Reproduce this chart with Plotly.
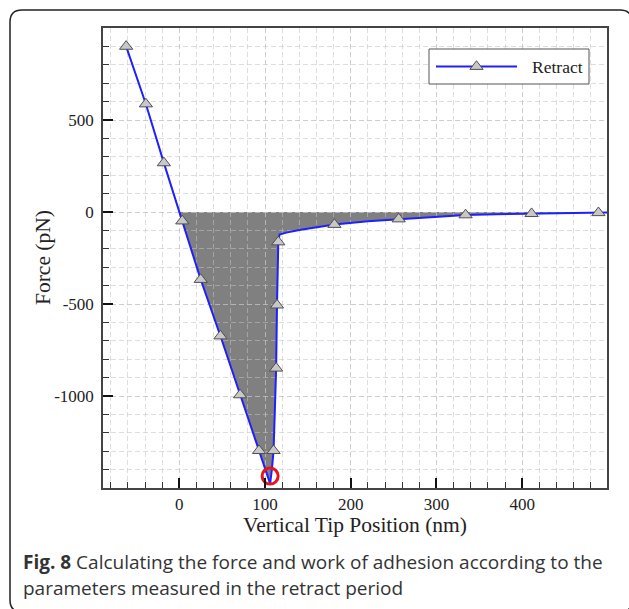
import plotly.graph_objects as go

# ---------------- data ----------------
line_x = [-62, -39, -18, 3.5, 25, 48, 71, 93, 100, 106, 108, 110, 112, 113, 114, 115.5,
          117, 125, 140, 160, 181, 220, 256, 300, 334, 370, 411, 450, 489, 499]
line_y = [900, 587, 267, -49, -367, -674, -994, -1297, -1395, -1476, -1400, -1297, -1000, -849, -506, -163,
          -122, -112, -98, -82, -68, -50, -38, -25, -16, -12, -9, -6, -4, -3]
marker_x = [-62, -39, -18, 3.5, 25, 48, 71, 93, 110, 113, 114, 115.5, 181, 256, 334, 411, 489]
marker_y = [900, 587, 267, -49, -367, -674, -994, -1297, -1297, -849, -506, -163, -68, -38, -16, -9, -4]
peak_x = [106]
peak_y = [-1435]

x_tickvals = [0, 100, 200, 300, 400]
x_ticktext = ["0", "100", "200", "300", "400"]
y_tickvals = [-1000, -500, 0, 500]
y_ticktext = ["-1000", "-500", "0", "500"]

series_name = "Retract"
x_title = "Vertical Tip Position (nm)"
y_title = "Force (pN)"
caption_1 = "<b>Fig. 8</b> Calculating the force and work of adhesion according to the"
caption_2 = "parameters measured in the retract period"

# ---------------- layout geometry ----------------
W, H = 629, 609
L, R, T, B = 103, 607, 28, 488


def px(xp):
    return (xp - L) / (R - L)


def py(yp):
    return (B - yp) / (B - T)


GRID = "rgba(193,193,193,0.55)"
SERIF = "Liberation Serif"
BLUE = "#1f1fff"

fig = go.Figure()

fig.add_trace(go.Scatter(x=line_x, y=line_y, mode="lines",
                         line=dict(color=BLUE, width=2), showlegend=False, hoverinfo="skip"))
fig.add_trace(go.Scatter(x=marker_x, y=marker_y, mode="markers", name=series_name,
                         marker=dict(symbol="triangle-up", size=11.5, color="#c8c8c8",
                                     line=dict(color="#505050", width=1)),
                         showlegend=False))
fig.add_trace(go.Scatter(x=peak_x, y=peak_y, mode="markers",
                         marker=dict(symbol="circle-open", size=16, color="#e8141c",
                                     line=dict(width=3, color="#e8141c")),
                         showlegend=False))

# ---------------- shaded adhesion area (below the grid) ----------------
fx, fy = [], []
for i in range(1, len(line_x)):
    x0, y0, x1, y1 = line_x[i - 1], line_y[i - 1], line_x[i], line_y[i]
    if y0 > 0 >= y1:
        fx.append(x0 + (0 - y0) * (x1 - x0) / (y1 - y0))
        fy.append(0)
    if y1 <= 0:
        fx.append(x1)
        fy.append(y1)
path = "M %f,0 " % fx[0]
for a, b in zip(fx, fy):
    path += "L %f,%f " % (a, b)
path += "L %f,0 Z" % fx[-1]

shapes = [dict(type="path", path=path, xref="x", yref="y", layer="below",
               fillcolor="#808080", line=dict(width=0))]

# ---------------- outer rounded frame ----------------
fx0, fy0, fx1, fy1, r = 10, 10, 632, 612, 12
pts = lambda a, b: "%f,%f" % (px(a), py(b))
frame = ("M " + pts(fx0 + r, fy0) + " L " + pts(fx1 - r, fy0) + " Q " + pts(fx1, fy0) + " " + pts(fx1, fy0 + r)
         + " L " + pts(fx1, fy1 - r) + " Q " + pts(fx1, fy1) + " " + pts(fx1 - r, fy1)
         + " L " + pts(fx0 + r, fy1) + " Q " + pts(fx0, fy1) + " " + pts(fx0, fy1 - r)
         + " L " + pts(fx0, fy0 + r) + " Q " + pts(fx0, fy0) + " " + pts(fx0 + r, fy0) + " Z")
shapes.append(dict(type="path", path=frame, xref="paper", yref="paper", layer="above",
                   line=dict(color="#222222", width=1.5), fillcolor="rgba(0,0,0,0)"))

# ---------------- custom legend ----------------
lx0, ly0, lx1, ly1 = 429, 49, 589, 84
shapes.append(dict(type="rect", xref="paper", yref="paper", layer="above",
                   x0=px(lx0), x1=px(lx1), y0=py(ly1), y1=py(ly0),
                   line=dict(color="#555555", width=1), fillcolor="white"))
ly = (ly0 + ly1) / 2
shapes.append(dict(type="line", xref="paper", yref="paper", layer="above",
                   x0=px(436), x1=px(517), y0=py(ly), y1=py(ly),
                   line=dict(color=BLUE, width=2)))
rr = 11.5 / 2
rt = rr * 2 / 3 ** 0.5
cx = 476.5
tri = "M %s L %s L %s Z" % (pts(cx - rt, ly + rr / 2), pts(cx + rt, ly + rr / 2), pts(cx, ly - rr))
shapes.append(dict(type="path", path=tri, xref="paper", yref="paper", layer="above",
                   fillcolor="#c8c8c8", line=dict(color="#505050", width=1)))

annotations = [
    dict(text=series_name, xref="paper", yref="paper", x=px(530), y=py(ly), xanchor="left", yanchor="middle",
         showarrow=False, font=dict(family=SERIF, size=17.5, color="#222")),
    dict(text=x_title, xref="paper", yref="paper", x=0.5, y=py(525), xanchor="center", yanchor="middle",
         showarrow=False, font=dict(family=SERIF, size=21.5, color="#222")),
    dict(text=y_title, xref="paper", yref="paper", x=px(43), y=py(258), xanchor="center", yanchor="middle",
         textangle=-90, showarrow=False, font=dict(family=SERIF, size=21.5, color="#222")),
    dict(text=caption_1, xref="paper", yref="paper", x=px(21), y=py(562), xanchor="left", yanchor="middle",
         showarrow=False, font=dict(family="Open Sans", size=19, color="#333")),
    dict(text=caption_2, xref="paper", yref="paper", x=px(21), y=py(588), xanchor="left", yanchor="middle",
         showarrow=False, font=dict(family="Open Sans", size=19, color="#333")),
]

axis_common = dict(
    ticks="inside", ticklen=10, tickwidth=2, tickcolor="#111",
    showline=True, linecolor="#444", linewidth=1.5, mirror=True,
    showgrid=True, gridcolor=GRID, griddash="5px,3px", gridwidth=1,
    zeroline=False, tickfont=dict(family=SERIF, size=17, color="#222"),
)

fig.update_layout(
    width=W, height=H,
    margin=dict(l=L, r=W - R, t=T, b=H - B),
    paper_bgcolor="white", plot_bgcolor="white",
    font=dict(family=SERIF, size=17, color="#222"),
    showlegend=False,
    shapes=shapes, annotations=annotations,
    xaxis=dict(range=[-89, 499], tickmode="array", tickvals=x_tickvals, ticktext=x_ticktext,
               minor=dict(tickmode="linear", tick0=0, dtick=20, ticks="inside", ticklen=6, tickwidth=1,
                          tickcolor="#333", showgrid=True, gridcolor=GRID, griddash="5px,3px", gridwidth=1),
               **axis_common),
    yaxis=dict(range=[-1500, 1000], tickmode="array", tickvals=y_tickvals, ticktext=y_ticktext,
               ticklabelstandoff=4,
               minor=dict(tickmode="linear", tick0=0, dtick=100, ticks="inside", ticklen=6, tickwidth=1,
                          tickcolor="#333", showgrid=True, gridcolor=GRID, griddash="5px,3px", gridwidth=1),
               **axis_common),
)

fig.write_html("out.html", config={"displayModeBar": False},
               post_script="document.body.style.margin='0';document.body.style.overflow='hidden';")
